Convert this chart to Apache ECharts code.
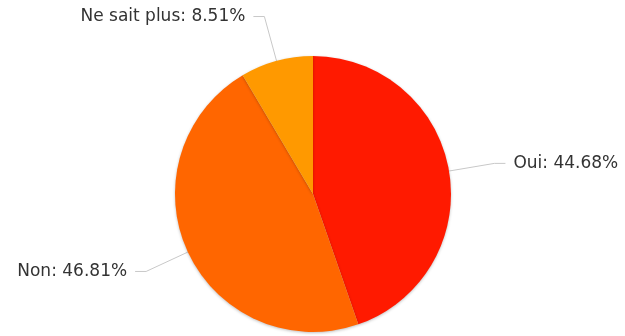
<!DOCTYPE html>
<html><head><meta charset="utf-8">
<script src="https://cdn.jsdelivr.net/npm/echarts@6/dist/echarts.min.js"></script>
<style>html,body{margin:0;padding:0;background:#fff}#c{width:625px;height:336px}</style>
</head><body><div id="c"></div>
<script>
const categories = ["Oui", "Non", "Ne sait plus"];
const values = [44.68, 46.81, 8.51];
const colors = ["#FF1A00", "#FF6600", "#FF9900"];

const chart = echarts.init(document.getElementById('c'), null, {renderer: 'canvas'});
chart.setOption({
  animation: false,
  series: [{
    type: 'pie',
    center: [313, 194],
    radius: 138,
    startAngle: 90,
    clockwise: true,
    avoidLabelOverlap: false,
    data: categories.map((c, i) => ({name: c, value: values[i], itemStyle: {color: colors[i]}})),
    itemStyle: {shadowBlur: 3, shadowColor: 'rgba(0,0,0,0.25)', shadowOffsetY: 1},
    label: {
      formatter: p => p.name + ': ' + p.value.toFixed(2) + '%',
      fontFamily: 'DejaVu Sans', fontSize: 17, color: '#333',
      distanceToLabelLine: 8
    },
    labelLine: {length: 46, length2: 11, lineStyle: {color: '#c8c8c8', width: 1}}
  }]
});
</script></body></html>
